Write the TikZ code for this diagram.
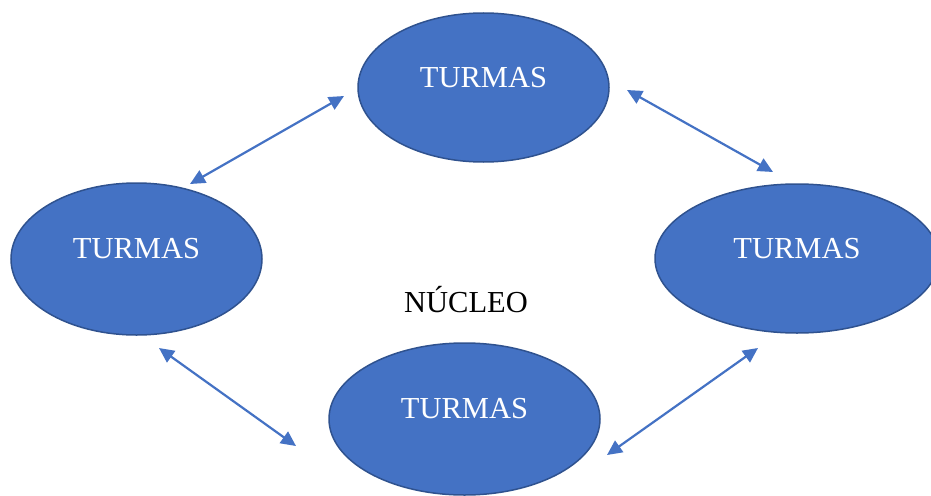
\documentclass[tikz,border=0pt]{standalone}
\usepackage{fontspec}
\setmainfont{Liberation Serif}
\usetikzlibrary{shapes.geometric,arrows.meta}
\definecolor{fillblue}{HTML}{4472C4}
\definecolor{edgeblue}{HTML}{2F528F}
\begin{document}
\begin{tikzpicture}[x=1pt,y=-1pt,
  turma/.style={ellipse,draw=edgeblue,line width=1.5pt,fill=fillblue,inner sep=0pt,
    label={[yshift=10pt,text=white,font=\fontsize{30.5}{36}\selectfont]center:TURMAS}},
  link/.style={draw=fillblue,line width=2.2pt,{Triangle[length=15pt,width=14pt]}-{Triangle[length=15pt,width=14pt]}}]
\useasboundingbox (0,0) rectangle (931,495);
\clip (0,0) rectangle (931,495);
\node[turma,minimum width=251pt,minimum height=149pt] (top) at (483.5,87.5) {};
\node[turma,minimum width=251pt,minimum height=152pt] (left) at (136.5,259) {};
\node[turma,minimum width=284pt,minimum height=149pt] (right) at (797,258.5) {};
\node[turma,minimum width=271pt,minimum height=152pt] (bottom) at (464.5,419) {};
\node[font=\fontsize{30.5}{36}\selectfont] (nucleo) at (466,300) {NÚCLEO};
\coordinate (a1) at (190,184);
\coordinate (a2) at (344,96);
\coordinate (b1) at (627,90);
\coordinate (b2) at (773,172);
\coordinate (c1) at (159,348);
\coordinate (c2) at (296,446);
\coordinate (d1) at (607,455);
\coordinate (d2) at (758,348);
\draw[link] (a1) -- (a2);
\draw[link] (b1) -- (b2);
\draw[link] (c1) -- (c2);
\draw[link] (d1) -- (d2);
\end{tikzpicture}
\end{document}
